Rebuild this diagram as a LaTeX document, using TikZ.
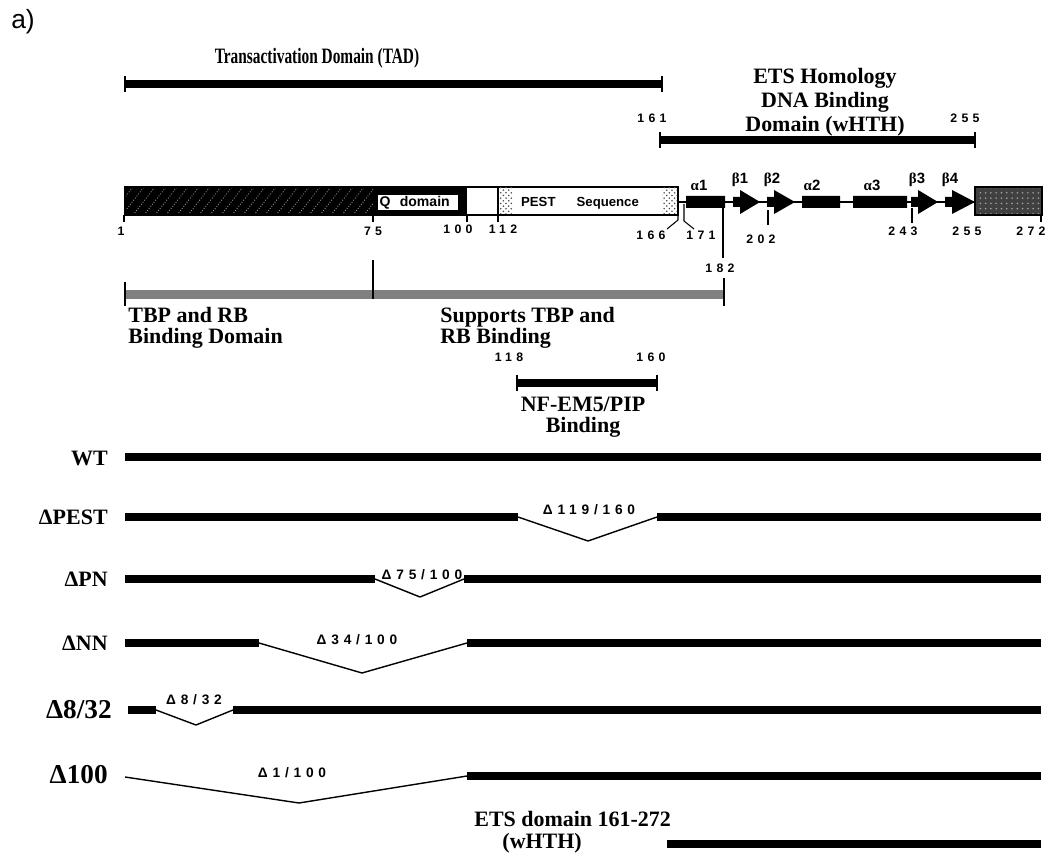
\documentclass[tikz,border=0pt]{standalone}
\usepackage{fontspec}
\setmainfont{Liberation Serif}
\newfontfamily\sansfont{Liberation Sans}
\newfontfamily\numfont[LetterSpace=35]{Liberation Sans}
\usetikzlibrary{patterns}

\newcommand\domainbar[3]{%
  \draw[dombar] (#1,#3) -- (#2,#3);
  \draw[tick] (#1,#3-8) -- (#1,#3+8) (#2,#3-8) -- (#2,#3+8);}
\newcommand\betastrand[2]{%
  \fill (#1,197) -- (#1+7,197) -- (#1+7,190) -- (#2,202) -- (#1+7,214) -- (#1+7,207) -- (#1,207) -- cycle;}

\begin{document}
\begin{tikzpicture}[
    x=0.02cm, y=-0.02cm,
    every node/.style={inner sep=0pt},
    lbl/.style={font=\fontsize{12.5}{12}\selectfont\bfseries},
    rowlbl/.style={font=\fontsize{12.5}{14}\selectfont\bfseries, anchor=east},
    bigrow/.style={font=\fontsize{15.5}{18}\selectfont\bfseries, anchor=east},
    num/.style={font=\fontsize{7}{8}\selectfont\numfont\bfseries},
    dellbl/.style={font=\fontsize{7.8}{9}\selectfont\numfont\bfseries},
    sslbl/.style={font=\fontsize{8.5}{9}\selectfont\sansfont\bfseries},
    dombar/.style={line width=4.5pt},
    rowbar/.style={line width=4pt},
    splice/.style={line width=0.8pt, line join=round},
    tick/.style={line width=0.6pt},
  ]
  \useasboundingbox (0,0) rectangle (1053,857);
  \node[font=\fontsize{15}{17}\selectfont\sansfont] (panel) at (23,22) {a)};

  \node[lbl] (tad) at (317,58) {\scalebox{0.7}[1]{Transactivation Domain (TAD)}};
  \domainbar{125}{662}{84}
  \node[lbl, align=center, anchor=north, font=\fontsize{12.5}{13.6}\selectfont\bfseries] (ets) at (825,68) {ETS Homology\\DNA Binding\\Domain (wHTH)};
  \node[num] (p161) at (652,118) {161};
  \node[num] (p255top) at (965,118) {255};
  \domainbar{660}{975}{140}

  \fill (125,187) rectangle (467,215);
  \begin{scope}
    \clip (125,187) rectangle (373,215);
    \foreach \x in {100,111,...,380}
      \draw[gray!80, densely dotted, line width=0.5pt] (\x,215) -- (\x+22,187);
  \end{scope}
  \node[fill=white, font=\fontsize{8}{9}\selectfont\sansfont\bfseries, minimum height=0.26cm, text width=1.54cm, inner sep=0.03cm, align=left] (qdom) at (418,202.5) {Q\ \ domain};
  \draw[line width=0.8pt] (125,187) rectangle (678,215);
  \fill[pattern=crosshatch dots, pattern color=black!70] (499,188) rectangle (513,214);
  \fill[pattern=crosshatch dots, pattern color=black!70] (662,188) rectangle (677,214);
  \draw[tick] (498,187) -- (498,222);
  \node[font=\fontsize{7.5}{9}\selectfont\sansfont\bfseries] (pest) at (580,203) {PEST\hspace{12pt}Sequence};

  \draw[line width=1.2pt] (678,202) -- (975,202);
  \fill (686,196) rectangle (725,208) (802,196) rectangle (840,208) (853,196) rectangle (907,208);
  \betastrand{733}{760} \betastrand{767}{795} \betastrand{911}{938} \betastrand{945}{975}
  \fill[black!75] (975,187) rectangle (1042,215);
  \fill[pattern=dots, pattern color=black!35] (975,187) rectangle (1042,215);
  \draw[line width=0.8pt] (975,187) rectangle (1042,215);

  \node[sslbl] (a1) at (699,185) {{\rmfamily α}1};
  \node[sslbl] (b1) at (740,180) {{\rmfamily β}1};
  \node[sslbl] (b2) at (772,180) {{\rmfamily β}2};
  \node[sslbl] (a2) at (812,185) {{\rmfamily α}2};
  \node[sslbl] (a3) at (872,185) {{\rmfamily α}3};
  \node[sslbl] (b3) at (917,180) {{\rmfamily β}3};
  \node[sslbl] (b4) at (950,180) {{\rmfamily β}4};

  \draw[tick] (124,215) -- (124,222) (373,215) -- (373,222) (467,215) -- (467,222);
  \draw[tick] (678,215) -- (678,220) -- (667,229);
  \draw[tick] (684,204) -- (684,221) -- (694,229);
  \draw[tick] (723,208) -- (723,258);
  \draw[tick] (768,210) -- (768,225);
  \draw[tick] (912,208) -- (912,223);
  \draw[tick] (1041,215) -- (1041,222);
  \node[num] (p1) at (121,231) {1};
  \node[num] (p75) at (373,231) {75};
  \node[num] (p100) at (458,229) {100};
  \node[num] (p112) at (503,229) {112};
  \node[num] (p166) at (651,235) {166};
  \node[num] (p171) at (701,235) {171};
  \node[num] (p182) at (720,268) {182};
  \node[num] (p202) at (761,239) {202};
  \node[num] (p243) at (903,231) {243};
  \node[num] (p255) at (967,231) {255};
  \node[num] (p272) at (1031,231) {272};

  \fill[black!50] (125,290) rectangle (724,299);
  \draw[tick] (125,282) -- (125,306) (373,260) -- (373,299) (724,278) -- (724,306);
  \node[lbl, align=left, anchor=north west] (tbprb) at (128,307) {TBP and RB\\Binding Domain};
  \node[lbl, align=left, anchor=north west] (supp) at (440,307) {Supports TBP and\\RB Binding};
  \node[num] (p118) at (509,357) {118};
  \node[num] (p160) at (651,357) {160};
  \domainbar{517}{657}{383}
  \node[lbl, align=center, anchor=north] (nfem) at (583,397) {NF-EM5/PIP\\Binding};

  \node[rowlbl] (wt) at (108,458) {WT};
  \draw[rowbar] (125,457) -- (1041,457);

  \node[rowlbl] (dpest) at (108,517) {ΔPEST};
  \draw[rowbar] (125,517) -- (518,517) (657,517) -- (1041,517);
  \draw[splice] (518,517) -- (588,541) -- (657,517);
  \node[dellbl] (d119) at (589,510) {Δ119/160};

  \node[rowlbl] (dpn) at (108,579) {ΔPN};
  \draw[rowbar] (125,579) -- (375,579) (464,579) -- (1041,579);
  \draw[splice] (375,579) -- (420,597) -- (464,579);
  \node[dellbl] (d75) at (422,575) {Δ75/100};

  \node[rowlbl] (dnn) at (108,643) {ΔNN};
  \draw[rowbar] (125,643) -- (259,643) (467,643) -- (1041,643);
  \draw[splice] (259,643) -- (362,673) -- (467,643);
  \node[dellbl] (d34) at (357,640) {Δ34/100};

  \node[bigrow] (d832row) at (112,710) {Δ8/32};
  \draw[rowbar] (128,710) -- (156,710) (233,710) -- (1041,710);
  \draw[splice] (156,710) -- (196,725) -- (233,710);
  \node[dellbl] (d8) at (194,700) {Δ8/32};

  \node[bigrow] (d100row) at (108,775) {Δ100};
  \draw[splice] (125,777) -- (299,803) -- (467,776);
  \draw[rowbar] (467,776) -- (1041,776);
  \node[dellbl] (d1) at (292,773) {Δ1/100};

  \node[lbl, align=left, anchor=north west, font=\fontsize{12.5}{12.5}\selectfont\bfseries] (etsdom) at (474,811) {ETS domain 161-272\\\hspace{16pt}(wHTH)};
  \draw[rowbar] (667,844) -- (1041,844);
\end{tikzpicture}
\end{document}
